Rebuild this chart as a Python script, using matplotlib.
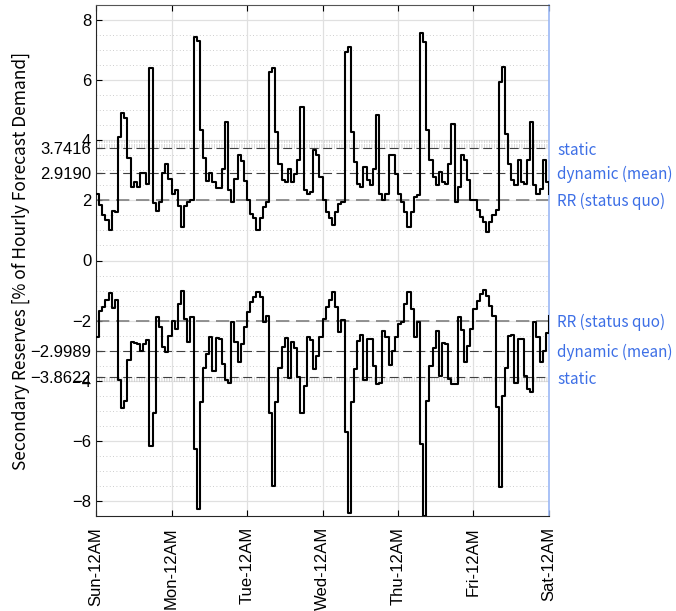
import numpy as np
import matplotlib.pyplot as plt

days = ['Sun-12AM', 'Mon-12AM', 'Tue-12AM', 'Wed-12AM', 'Thu-12AM', 'Fri-12AM', 'Sat-12AM']

# hourly upward reserve requirement (% of forecast demand), Sun 0h .. Fri 23h, plus end value
up_reserve = [
    2.2, 1.85, 1.5, 1.35, 1.0, 1.65, 1.6, 4.1, 4.9, 4.75, 3.4, 2.45,
    2.6, 2.45, 2.9, 2.9, 2.55, 6.4, 1.9, 1.65, 1.95, 2.9, 3.2, 2.7,
    2.2, 2.35, 1.8, 1.1, 1.8, 1.95, 2.0, 7.45, 7.3, 4.35, 3.4, 2.65,
    2.9, 2.6, 2.4, 2.4, 3.05, 4.6, 2.35, 1.95, 2.7, 3.5, 3.3, 2.65,
    2.0, 1.55, 1.4, 1.0, 1.4, 1.78, 1.95, 6.28, 6.4, 4.28, 3.22, 2.67,
    2.6, 3.06, 2.6, 2.89, 3.33, 5.11, 2.33, 2.22, 2.28, 3.67, 3.5, 2.78,
    2.0, 1.6, 1.4, 1.17, 1.6, 1.89, 1.95, 6.94, 7.11, 4.28, 3.28, 2.56,
    2.44, 3.11, 2.67, 2.5, 3.06, 4.83, 2.22, 2.0, 2.22, 3.5, 3.5, 2.89,
    2.22, 1.95, 1.6, 1.1, 1.6, 2.11, 2.17, 7.56, 7.28, 4.33, 3.33, 2.78,
    2.5, 2.94, 2.6, 2.56, 3.22, 4.55, 1.95, 2.45, 3.5, 3.33, 2.67, 2.0,
    2.0, 1.67, 1.44, 1.28, 0.94, 1.28, 1.5, 1.67, 5.94, 6.44, 4.22, 3.22,
    2.67, 2.5, 3.33, 2.6, 2.56, 3.33, 4.61, 2.5, 2.22, 2.39, 3.35, 2.6,
    2.2,
]

# hourly downward reserve requirement
down_reserve = [
    -2.53, -1.67, -1.56, -1.31, -1.09, -1.59, -1.31, -3.97, -4.92, -4.69, -3.31, -2.71,
    -2.73, -2.78, -3.02, -2.78, -2.64, -6.17, -5.06, -1.87, -2.22, -2.87, -3.06, -2.5,
    -2.02, -2.28, -1.44, -1.0, -1.94, -2.72, -1.87, -6.28, -8.28, -4.72, -3.56, -3.11,
    -2.53, -3.67, -2.58, -2.61, -3.44, -3.98, -4.09, -2.06, -2.72, -3.39, -2.78, -2.22,
    -1.72, -1.39, -1.22, -1.06, -1.2, -2.06, -1.83, -5.06, -7.5, -4.72, -3.56, -2.89,
    -2.58, -3.91, -2.72, -2.91, -3.87, -5.09, -4.17, -2.53, -2.64, -3.61, -3.17, -2.53,
    -1.94, -1.56, -1.33, -1.06, -1.56, -2.39, -1.98, -5.72, -8.39, -4.72, -3.61, -2.67,
    -2.47, -3.98, -2.61, -2.61, -3.5, -4.11, -4.06, -2.36, -2.53, -3.47, -3.02, -2.53,
    -2.11, -2.06, -1.44, -1.06, -1.61, -2.53, -2.06, -6.11, -8.5, -4.67, -3.5, -2.91,
    -2.33, -3.83, -2.76, -2.78, -3.94, -4.11, -4.11, -1.87, -2.31, -3.39, -2.83, -2.28,
    -1.61, -1.36, -1.11, -0.97, -1.17, -1.5, -1.83, -4.89, -7.53, -4.5, -3.56, -2.5,
    -2.47, -4.06, -2.61, -2.61, -3.83, -4.28, -4.36, -2.06, -2.53, -3.39, -3.0, -2.42,
    -1.83,
]

rr_up, dyn_up, static_up = 2.0, 2.9190, 3.7416
rr_dn, dyn_dn, static_dn = -2.0, -2.9989, -3.8622

hours = np.arange(len(up_reserve))

plt.rcParams['font.family'] = ['Liberation Sans', 'DejaVu Sans']
fig = plt.figure(figsize=(6.76, 6.11), dpi=100)
ax = fig.add_axes([96 / 676, 95 / 611, 453 / 676, 511 / 611])

# grid
for y in np.arange(-8, 8.01, 2):
    ax.axhline(y, color='#e0e0e0', lw=0.9, zorder=0)
for y in np.arange(-8.5, 8.51, 0.5):
    if y % 2 != 0:
        ax.axhline(y, color='#bdbdbd', lw=0.6, ls=(0, (1, 3)), zorder=0)
for y in np.linspace(static_up, 4, 8):
    ax.axhline(y, color='#c8c8c8', lw=0.6, ls=(0, (1, 2)), zorder=0)
for y in np.linspace(-4, static_dn, 5):
    ax.axhline(y, color='#c8c8c8', lw=0.6, ls=(0, (1, 2)), zorder=0)
for d in range(len(days)):
    ax.axvline(d * 24, color='#e0e0e0', lw=0.9, zorder=0)

ax.step(hours, up_reserve, where='post', color='black', lw=1.5, zorder=3)
ax.step(hours, down_reserve, where='post', color='black', lw=1.5, zorder=3)

for y in [static_up, dyn_up, static_dn, dyn_dn]:
    ax.axhline(y, color='#404040', lw=0.8, ls=(0, (8, 4)), zorder=2)
for y in [rr_up, rr_dn]:
    ax.axhline(y, color='#808080', lw=1.2, ls=(0, (8, 4)), zorder=2)

ax.set_xlim(0, 144)
ax.set_ylim(-8.5, 8.5)
ax.set_xticks(np.arange(len(days)) * 24)
ax.set_xticklabels(days, rotation=90, fontsize=12)
yt = [-8, -6, static_dn, -4, dyn_dn, -2, 0, 2, dyn_up, static_up, 4, 6, 8]
ax.set_yticks(yt)
ax.set_yticklabels(['\u22128', '\u22126', '\u22123.8622', '\u22124', '\u22122.9989', '\u22122',
                    '0', '2', '2.9190', '3.7416', '4', '6', '8'], fontsize=12)
ax.tick_params(direction='in', top=True, length=4, width=0.8)
ax.tick_params(axis='x', pad=8)
for s in ['left', 'bottom']:
    ax.spines[s].set_color('#262626')
ax.spines['top'].set_color('#555555')
ax.spines['right'].set_color('#9bb8f5')
ax.spines['right'].set_linewidth(1.2)

ax.set_ylabel('Secondary Reserves [% of Hourly Forecast Demand]', fontsize=12.5,
              family=['Noto Sans CJK JP', 'DejaVu Sans'], labelpad=0)

lab_kw = dict(transform=ax.get_yaxis_transform(), color='#3d6fe6', fontsize=11,
              va='center', ha='left', family=['Noto Sans CJK JP', 'DejaVu Sans'],
              clip_on=False)
ax.text(1.018, 3.65, 'static', **lab_kw)
ax.text(1.018, 2.85, 'dynamic (mean)', **lab_kw)
ax.text(1.018, 1.95, 'RR (status quo)', **lab_kw)
ax.text(1.018, -2.05, 'RR (status quo)', **lab_kw)
ax.text(1.018, -3.05, 'dynamic (mean)', **lab_kw)
ax.text(1.018, -3.95, 'static', **lab_kw)

fig.savefig('out.png', dpi=100)
